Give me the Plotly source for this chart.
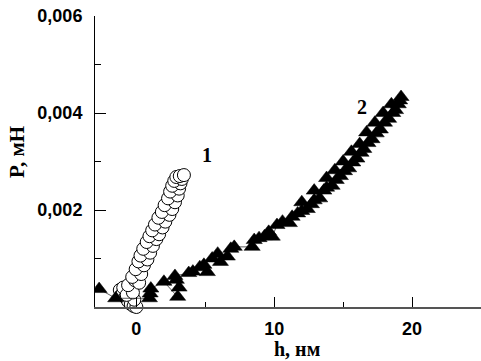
import plotly.graph_objects as go

# Series 1 (open circles): h, nm and P, mN
h1 = [-1.2, -1.0, -0.8, -0.6, -0.4, -0.2, 0.0, -0.15, -0.95, -0.7, -0.25, -0.6, -0.1, 0.2, -0.3,
      0.35, -0.05, 0.55, 0.15, 0.8, 0.3, 1.0, 0.5, 1.2, 0.75, 1.45, 0.95, 1.65, 1.15, 1.9, 1.35,
      2.1, 1.6, 2.4, 1.85, 2.6, 2.05, 2.8, 2.3, 3.0, 2.45, 3.1, 2.6, 3.2, 2.75, 3.3, 2.9, 3.15, 3.45]
p1 = [0.00035, 0.00028, 0.00020, 0.00012, 0.00006, 0.00002, 0.00000, 0.00015, 0.00040, 0.00025,
      0.00030, 0.00045, 0.00055, 0.00050, 0.00062, 0.00068, 0.00078, 0.00086, 0.00094, 0.00098,
      0.00106, 0.00112, 0.00120, 0.00126, 0.00134, 0.00140, 0.00146, 0.00150, 0.00158, 0.00164,
      0.00170, 0.00176, 0.00184, 0.00190, 0.00196, 0.00202, 0.00210, 0.00216, 0.00224, 0.00230,
      0.00238, 0.00244, 0.00250, 0.00255, 0.00260, 0.00264, 0.00268, 0.00270, 0.00272]

# Series 2 (filled triangles)
h2 = [-2.7, -1.5, 0.95, 1.0, 1.05, 2.0, 3.0, 2.9, 3.1, 2.8, 3.8, 4.1, 4.9, 5.15, 4.6, 5.9,
      6.1, 5.5, 6.6, 6.85, 7.1, 8.4, 8.55, 8.9, 9.3, 9.6, 9.86, 10.2, 10.6, 11.1, 11.3, 11.7,
      12.0, 12.4, 12.0, 12.7, 12.9, 13.3, 12.9, 13.6, 13.8, 14.2, 13.8, 14.5, 14.8, 14.4,
      15.1, 15.4, 15.0, 15.7, 16.0, 15.6, 16.3, 16.5, 16.2, 16.8, 17.1, 16.7, 17.4, 17.7,
      17.3, 18.0, 18.3, 17.9, 18.6, 18.8, 18.5, 19.0, 19.1, 19.2]
p2 = [0.00037, 0.00018, 0.00018, 0.00028, 0.00038, 0.00052, 0.00021, 0.00056, 0.00040, 0.00064,
      0.00070, 0.00073, 0.00087, 0.00072, 0.00082, 0.00110, 0.00093, 0.00100, 0.00104, 0.00120,
      0.00124, 0.00124, 0.00138, 0.00142, 0.00146, 0.00155, 0.00145, 0.00169, 0.00176, 0.00173,
      0.00186, 0.00193, 0.00198, 0.00202, 0.00216, 0.00212, 0.00220, 0.00224, 0.00240, 0.00240,
      0.00246, 0.00250, 0.00266, 0.00262, 0.00270, 0.00282, 0.00280, 0.00286, 0.00300, 0.00298,
      0.00306, 0.00320, 0.00318, 0.00326, 0.00336, 0.00338, 0.00346, 0.00360, 0.00358, 0.00366,
      0.00380, 0.00380, 0.00388, 0.00400, 0.00400, 0.00406, 0.00418, 0.00418, 0.00426, 0.00433]

x_ticks = [0, 10, 20]
x_minor = [5, 15]
y_ticks = [0.002, 0.004, 0.006]
y_ticktext = ["0,002", "0,004", "0,006"]
y_minor = [0.001, 0.003, 0.005]

fig = go.Figure()
fig.add_trace(go.Scatter(
    x=h1, y=p1, mode="lines+markers", cliponaxis=False,
    line=dict(color="#333", width=0.8),
    marker=dict(symbol="circle", size=13, color="white", line=dict(color="black", width=1)),
    showlegend=False))
fig.add_trace(go.Scatter(
    x=h2, y=p2, mode="lines+markers",
    line=dict(color="#333", width=0.8),
    marker=dict(symbol="triangle-up", size=14, color="black", line=dict(color="black", width=0.5)),
    showlegend=False))

tickfont = dict(family="Liberation Sans, Arial", size=18, color="black", weight="bold")
fig.update_xaxes(
    range=[-3, 25], tickvals=x_ticks, ticks="inside", ticklen=10, tickwidth=1, tickcolor="black",
    showline=True, linecolor="#555", linewidth=1.5, showgrid=False, zeroline=False,
    tickfont=tickfont, ticklabelstandoff=5,
    minor=dict(tickvals=x_minor, ticks="inside", ticklen=5, tickcolor="black", showgrid=False))
fig.update_yaxes(
    range=[0, 0.006], tickvals=y_ticks, ticktext=y_ticktext, ticks="inside", ticklen=11,
    tickwidth=1, tickcolor="black",
    showline=True, linecolor="black", linewidth=1, showgrid=False, zeroline=False,
    tickfont=tickfont, ticklabelstandoff=8,
    minor=dict(tickvals=y_minor, ticks="inside", ticklen=6, tickcolor="black", showgrid=False))

serif = "Liberation Serif, Times New Roman"
fig.add_annotation(text="P, мН", xref="paper", yref="paper", x=-0.202, y=0.533, textangle=-90,
                   xanchor="center", yanchor="middle", showarrow=False,
                   font=dict(family=serif, size=21, color="black", weight="bold"))
fig.add_annotation(text="h, нм", xref="paper", yref="paper", x=0.523, y=-0.145,
                   xanchor="center", yanchor="middle", showarrow=False,
                   font=dict(family=serif, size=20, color="black", weight="bold"))
fig.add_annotation(text="1", x=5.15, y=0.00313, showarrow=False,
                   font=dict(family=serif, size=20, color="black", weight="bold"))
fig.add_annotation(text="2", x=16.4, y=0.00412, showarrow=False,
                   font=dict(family=serif, size=20, color="black", weight="bold"))

fig.update_layout(
    width=481, height=361, margin=dict(l=95, r=0, t=16, b=54),
    paper_bgcolor="white", plot_bgcolor="white")
fig.write_html("out.html")
